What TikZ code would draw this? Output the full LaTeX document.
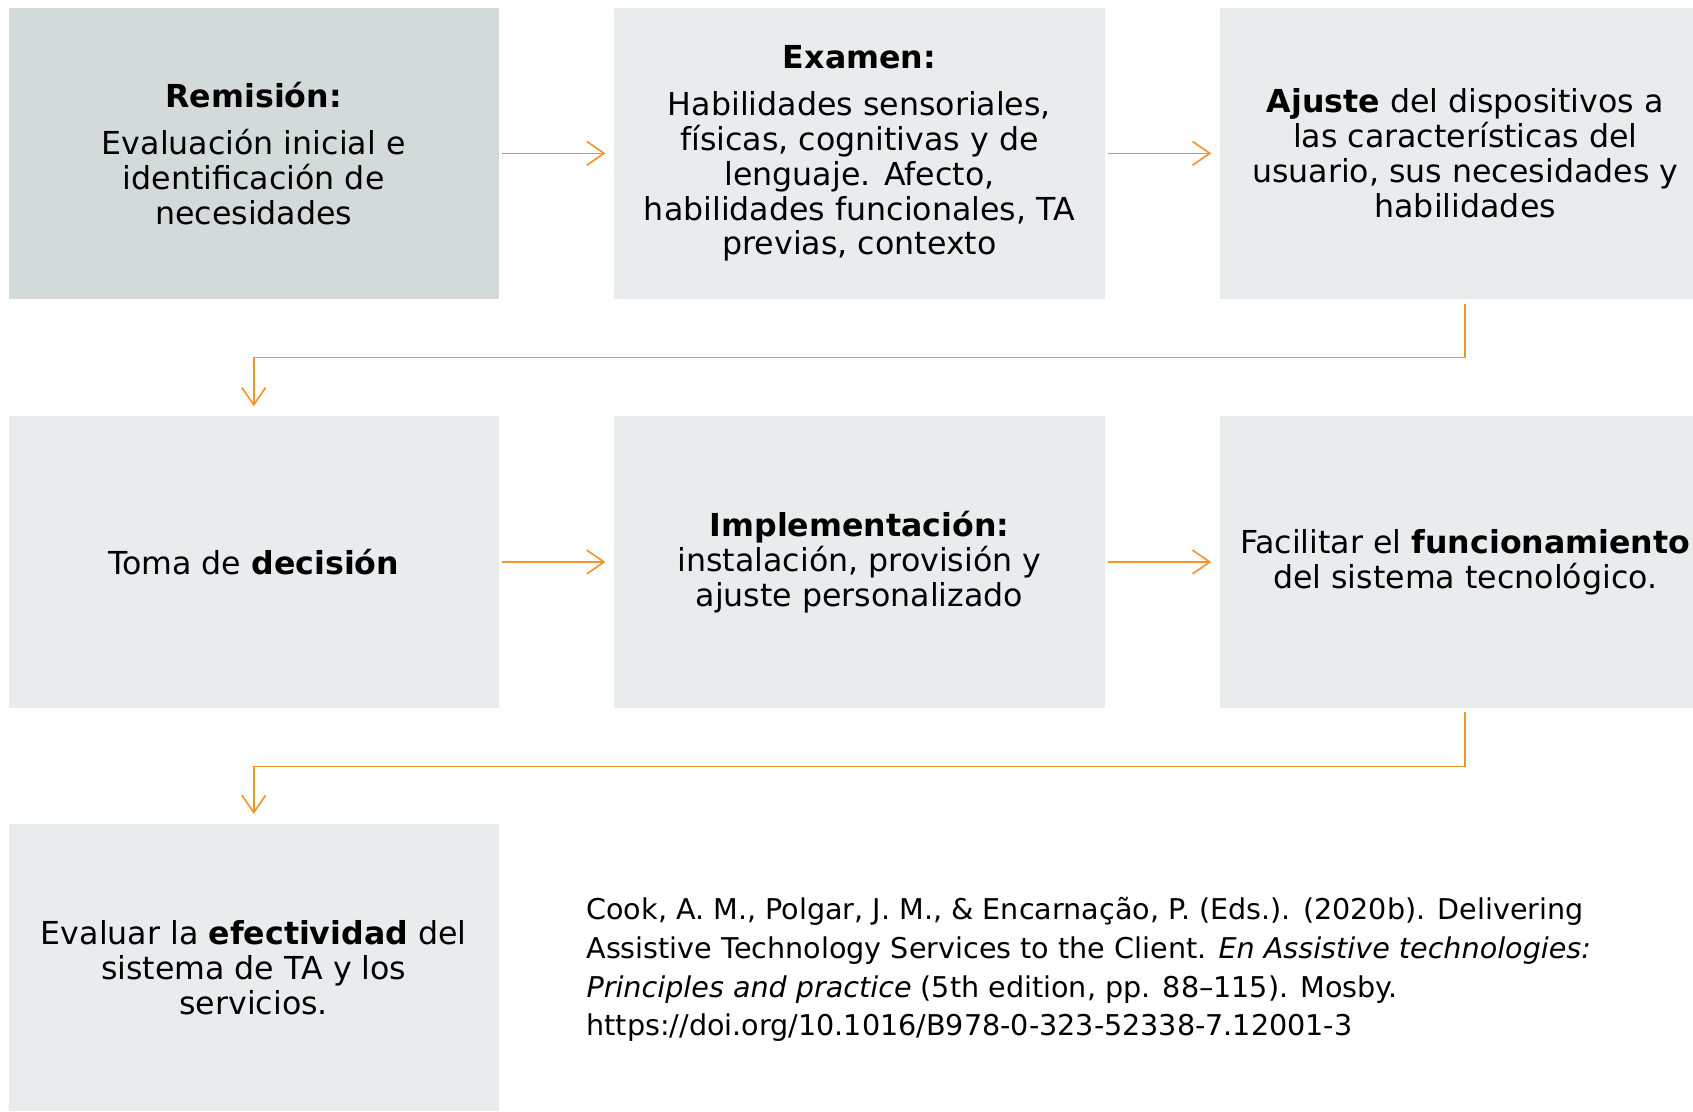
\documentclass[tikz,border=0pt]{standalone}
\usepackage{fontspec}
\setmainfont{DejaVu Sans}
\usetikzlibrary{arrows.meta}
\definecolor{boxA}{RGB}{210,218,218}
\definecolor{boxB}{RGB}{233,236,237}
\definecolor{orng}{RGB}{243,148,38}
\begin{document}
\begin{tikzpicture}[x=1pt,y=-1pt,
  box/.style={rectangle, minimum width=454pt, minimum height=270pt, inner sep=0pt,
    align=center, font=\fontsize{29.3}{32.2}\selectfont, text=black, fill=boxB},
  flow/.style={draw=orng, line width=1.5pt,
    -{Straight Barb[length=16pt,width=22pt]}},
  cite/.style={anchor=west, align=left, inner sep=0pt, font=\fontsize{26.5}{35.8}\selectfont, text=black}]
\clip (0,0) rectangle (1568,1029);
\fill[white] (0,0) rectangle (1568,1029);
% row 1
\node[box, fill=boxA] (b1) at (235,142) {\textbf{Remisión:}\\[12pt]Evaluación inicial e\\identificación de\\necesidades};
\node[box] (b2) at (796,142) {\textbf{Examen:}\\[12pt]Habilidades sensoriales,\\físicas, cognitivas y de\\lenguaje. Afecto,\\habilidades funcionales, TA\\previas, contexto};
\node[box] (b3) at (1357,142) {\textbf{Ajuste} del dispositivos a\\las características del\\usuario, sus necesidades y\\habilidades};
% row 2
\node[box] (b4) at (235,520.5) {Toma de \textbf{decisión}};
\node[box] (b5) at (796,520.5) {\textbf{Implementación:}\\instalación, provisión y\\ajuste personalizado};
\node[box] (b6) at (1357,520.5) {Facilitar el \textbf{funcionamiento}\\del sistema tecnológico.};
% row 3
\node[box, minimum height=266pt] (b7) at (235,896) {Evaluar la \textbf{efectividad} del\\sistema de TA y los\\servicios.};
% citation
\node[cite] (ref) at (543,898) {Cook, A. M., Polgar, J. M., \& Encarnação, P. (Eds.). (2020b). Delivering\\Assistive Technology Services to the Client. \textit{En Assistive technologies:}\\\textit{Principles and practice} (5th edition, pp. 88–115). Mosby.\\https://doi.org/10.1016/B978-0-323-52338-7.12001-3};
% connectors
\coordinate (m1) at (796,331);
\coordinate (m2) at (796,710);
\draw[flow, shorten <=3pt, shorten >=8pt] (b1) -- (b2);
\draw[flow, shorten <=3pt, shorten >=8pt] (b2) -- (b3);
\draw[flow, shorten <=3pt, shorten >=8pt] (b4) -- (b5);
\draw[flow, shorten <=3pt, shorten >=8pt] (b5) -- (b6);
\draw[flow, shorten <=4pt, shorten >=9pt] (b3.south) |- (m1) -| (b4.north);
\draw[flow, shorten <=4pt, shorten >=9pt] (b6.south) |- (m2) -| (b7.north);
\end{tikzpicture}
\end{document}
